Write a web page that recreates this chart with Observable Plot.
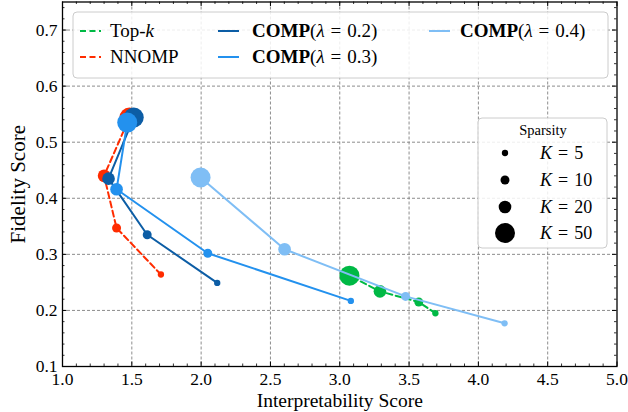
<!DOCTYPE html>
<html><head><meta charset="utf-8">
<script src="https://cdn.jsdelivr.net/npm/d3@7"></script>
<script src="https://cdn.jsdelivr.net/npm/@observablehq/plot@0.6"></script>
<style>body{margin:0;background:#fff} svg{display:block}</style>
</head><body><div id="chart"></div>
<script>
// ---- data ----
const sparsityK = [5, 10, 20, 50];
const topkX   = [3.69, 3.57, 3.29, 3.07];
const topkY   = [0.195, 0.215, 0.234, 0.262];
const nnompX  = [1.71, 1.39, 1.30, 1.483];
const nnompY  = [0.264, 0.347, 0.440, 0.544];
const comp02X = [2.116, 1.611, 1.332, 1.514];
const comp02Y = [0.249, 0.335, 0.435, 0.544];
const comp03X = [3.08, 2.048, 1.39, 1.467];
const comp03Y = [0.217, 0.302, 0.416, 0.535];
const comp04X = [4.189, 3.475, 2.602, 1.996];
const comp04Y = [0.177, 0.225, 0.309, 0.437];
const seriesKeys   = ["topk", "nnomp", "comp02", "comp03", "comp04"];
const seriesLambda = [null, null, "0.2", "0.3", "0.4"];
const seriesColors = ["#00B945", "#FF2C00", "#0C5DA5", "#2391EE", "#7FBEF5"];
const seriesDashed = [true, true, false, false, false];
const xTickLabels = [1.0, 1.5, 2.0, 2.5, 3.0, 3.5, 4.0, 4.5, 5.0];
const yTickLabels = [0.1, 0.2, 0.3, 0.4, 0.5, 0.6, 0.7];
const xLabel = "Interpretability Score";
const yLabel = "Fidelity Score";

const xs = [topkX, nnompX, comp02X, comp03X, comp04X];
const ys = [topkY, nnompY, comp02Y, comp03Y, comp04Y];
const series = seriesKeys.map((key, i) => ({
  key, color: seriesColors[i], dashed: seriesDashed[i],
  rows: sparsityK.map((K, j) => ({K, x: xs[i][j], y: ys[i][j]}))
}));

const W = 628, H = 412;
const mL = 62, mR = 11.5, mT = 1.5, mB = 46;
const fw = W - mL - mR, fh = H - mT - mB;
const xMinor = d3.range(10, 51).map(d => d / 10).filter(d => !xTickLabels.some(t => Math.abs(t - d) < 1e-9));
const yMinor = d3.range(5, 38).map(d => d / 50).filter(d => !yTickLabels.some(t => Math.abs(t - d) < 1e-9));
const serif = "'Liberation Serif', 'DejaVu Serif', serif";

const marks = [
  Plot.gridX(xTickLabels.slice(1, -1), {stroke: "#808080", strokeOpacity: 1, strokeWidth: 0.9, strokeDasharray: "3,2"}),
  Plot.gridY(yTickLabels.slice(1), {stroke: "#808080", strokeOpacity: 1, strokeWidth: 0.9, strokeDasharray: "3,2"})
];
for (const s of series) {
  marks.push(Plot.line(s.rows, {x: "x", y: "y", stroke: s.color, strokeWidth: 2,
    strokeDasharray: s.dashed ? "6,3.5" : null}));
  marks.push(Plot.dot(s.rows, {x: "x", y: "y", r: "K", fill: s.color, stroke: "none"}));
}
// inward ticks on all sides
marks.push(
  Plot.ruleX(xTickLabels, {x: d => d, insetTop: fh - 4.5, stroke: "#000", strokeWidth: 1}),
  Plot.ruleX(xTickLabels, {x: d => d, insetBottom: fh - 4.5, stroke: "#000", strokeWidth: 1}),
  Plot.ruleX(xMinor, {x: d => d, insetTop: fh - 2.5, stroke: "#000", strokeWidth: 0.8}),
  Plot.ruleX(xMinor, {x: d => d, insetBottom: fh - 2.5, stroke: "#000", strokeWidth: 0.8}),
  Plot.ruleY(yTickLabels, {y: d => d, insetRight: fw - 4.5, stroke: "#000", strokeWidth: 1}),
  Plot.ruleY(yTickLabels, {y: d => d, insetLeft: fw - 4.5, stroke: "#000", strokeWidth: 1}),
  Plot.ruleY(yMinor, {y: d => d, insetRight: fw - 2.5, stroke: "#000", strokeWidth: 0.8}),
  Plot.ruleY(yMinor, {y: d => d, insetLeft: fw - 2.5, stroke: "#000", strokeWidth: 0.8}),
  Plot.frame({stroke: "#000", strokeWidth: 1.3}),
  Plot.axisX(xTickLabels, {anchor: "bottom", tickSize: 0, tickPadding: 6, tickFormat: d3.format(".1f"), label: null, fontSize: 17.5}),
  Plot.axisY(yTickLabels, {anchor: "left", tickSize: 0, tickPadding: 5, tickFormat: d3.format(".1f"), label: null, fontSize: 17.5}),
  Plot.text([xLabel], {frameAnchor: "bottom", lineAnchor: "middle", textAnchor: "middle", dy: 34, text: d => d, fontSize: 19.5}),
  Plot.text([yLabel], {frameAnchor: "left", lineAnchor: "middle", textAnchor: "middle", dx: -44, rotate: -90, text: d => d, fontSize: 21})
);

const chart = Plot.plot({
  width: W, height: H,
  marginLeft: mL, marginRight: mR, marginTop: mT, marginBottom: mB,
  style: {fontFamily: serif, fontSize: "18px", color: "#000", background: "#fff"},
  x: {domain: [1, 5], axis: null},
  y: {domain: [0.1, 0.75], axis: null},
  r: {type: "sqrt", domain: [0, 50], range: [0, 10]},
  marks
});
document.getElementById("chart").appendChild(chart);

// ---- legends ----
const svg = d3.select(chart);
const rScale = chart.scale("r");
function box(x, y, w, h) {
  svg.append("rect").attr("x", x).attr("y", y).attr("width", w).attr("height", h)
    .attr("rx", 4).attr("fill", "#fff").attr("fill-opacity", 0.85)
    .attr("stroke", "#cccccc").attr("stroke-width", 1);
}
box(73, 12, 535, 66);
const legendPos = [[80, 31], [80, 57], [218, 31], [218, 57], [429, 31]];
const textX = [110, 110, 252, 252, 460];
series.forEach((s, i) => {
  const [lx, ly] = legendPos[i];
  svg.append("line").attr("x1", lx).attr("x2", lx + 21).attr("y1", ly).attr("y2", ly)
    .attr("stroke", s.color).attr("stroke-width", 2)
    .attr("stroke-dasharray", s.dashed ? "6,3.5" : null);
  const t = svg.append("text").attr("x", textX[i]).attr("y", ly + 6)
    .attr("text-anchor", "start").attr("font-family", serif).attr("font-size", 19).attr("fill", "#000");
  if (i === 0) { t.append("tspan").text("Top-"); t.append("tspan").attr("font-style", "italic").text("k"); }
  else if (i === 1) { t.text("NNOMP"); }
  else {
    t.append("tspan").attr("font-weight", "bold").text("COMP");
    t.append("tspan").text("(");
    t.append("tspan").attr("font-style", "italic").text("λ");
    t.append("tspan").attr("dx", 6).text("=");
    t.append("tspan").attr("dx", 6).text(seriesLambda[i] + ")");
  }
});

box(478, 118, 129, 130);
svg.append("text").attr("x", 543).attr("y", 135).attr("text-anchor", "middle")
  .attr("font-family", serif).attr("font-size", 14.5).text("Sparsity");
const sparsityRowY = [153, 180, 207, 233];
sparsityK.forEach((K, j) => {
  svg.append("circle").attr("cx", 505).attr("cy", sparsityRowY[j]).attr("r", rScale.apply(K)).attr("fill", "#000");
  const t = svg.append("text").attr("x", 540).attr("y", sparsityRowY[j] + 6)
    .attr("text-anchor", "start").attr("font-family", serif).attr("font-size", 18);
  t.append("tspan").attr("font-style", "italic").text("K");
  t.append("tspan").attr("dx", 6).text("=");
  t.append("tspan").attr("dx", 6).text(String(K));
});
</script></body></html>
